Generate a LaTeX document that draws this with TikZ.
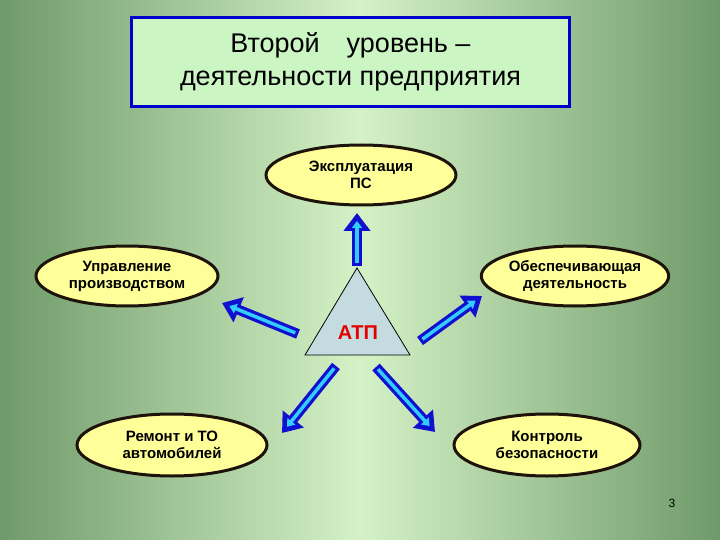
\documentclass[tikz,border=0pt]{standalone}
\usepackage{fontspec}
\setmainfont{Liberation Sans}
\usetikzlibrary{arrows.meta,shapes.geometric}
\definecolor{edge}{HTML}{6F9A6A}
\definecolor{mid}{HTML}{D4F2C6}
\definecolor{ell}{HTML}{FFFF99}
\definecolor{tri}{HTML}{C4DCE0}
\definecolor{titlef}{HTML}{CCF5C4}
\definecolor{arrblue}{HTML}{1010D0}
\definecolor{arrcyan}{HTML}{33CCFF}
\tikzset{
  oval/.style={draw=black!85!brown, line width=3pt, fill=ell, ellipse, minimum width=#1, minimum height=60pt, inner sep=0pt, align=center, font=\bfseries\fontsize{15}{17}\selectfont},
  outerarr/.style={draw=arrblue, line width=10pt, -{Triangle[length=18pt,width=26pt]}},
  innerarr/.style={draw=arrcyan, line width=3.5pt, shorten >=8pt, shorten <=3pt, -{Triangle[length=7pt,width=10pt]}}
}
\newcommand{\blockarrow}[2]{\draw[outerarr] (#1) -- (#2); \draw[innerarr] (#1) -- (#2);}
\begin{document}
\begin{tikzpicture}[x=1pt,y=-1pt]
\useasboundingbox (0,0) rectangle (720,540);
\shade[left color=edge, right color=edge, middle color=mid] (0,0) rectangle (720,540);
\node[draw=blue!80!black, line width=3pt, fill=titlef, minimum width=438pt, minimum height=89pt, align=center, font=\fontsize{27}{33}\selectfont] (title) at (350.5,62) {Второй\quad уровень –\\деятельности предприятия};
% triangle
\coordinate (apex) at (357,268);
\coordinate (bl) at (305,355);
\coordinate (br) at (410,355);
\fill[tri] (apex) -- (bl) -- (br) -- cycle;
\draw[black, line width=0.8pt] (apex) -- (bl) -- (br) -- cycle;
\node[text=red!90!black, font=\bfseries\fontsize{20}{22}\selectfont] (atp) at (358,333) {АТП};
% ellipses
\node[oval=190pt] (top) at (361,175) {Эксплуатация\\ПС};
\node[oval=182pt] (left) at (127,276) {Управление\\производством};
\node[oval=186pt] (right) at (575,276) {Обеспечивающая\\деятельность};
\node[oval=190pt, minimum height=62pt] (bleft) at (172,445) {Ремонт и ТО\\автомобилей};
\node[oval=186pt, minimum height=62pt] (bright) at (547,445) {Контроль\\безопасности};
% arrows
\coordinate (a1s) at (357,266); \coordinate (a1e) at (357,213);
\coordinate (a2s) at (298,334); \coordinate (a2e) at (222,303);
\coordinate (a3s) at (420,341); \coordinate (a3e) at (482,296);
\coordinate (a4s) at (336,366); \coordinate (a4e) at (282,433);
\coordinate (a5s) at (376,367); \coordinate (a5e) at (435,432);
\blockarrow{a1s}{a1e}
\blockarrow{a2s}{a2e}
\blockarrow{a3s}{a3e}
\blockarrow{a4s}{a4e}
\blockarrow{a5s}{a5e}
\node[font=\fontsize{12}{14}\selectfont] (pg) at (672,503) {3};
\end{tikzpicture}
\end{document}
